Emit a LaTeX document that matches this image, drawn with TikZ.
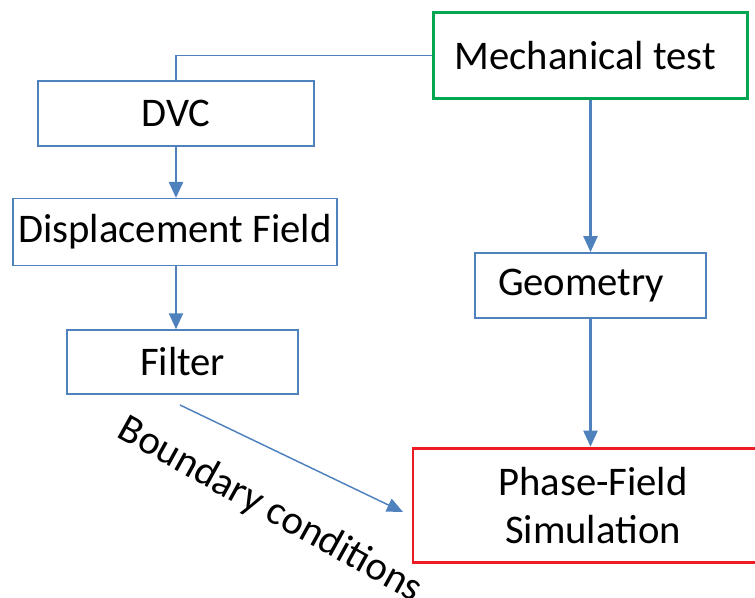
\documentclass[tikz,border=0pt]{standalone}
\usepackage{fontspec}
\setmainfont{Carlito}
\usetikzlibrary{arrows.meta}
\definecolor{lineblue}{RGB}{79,129,189}
\definecolor{boxgreen}{RGB}{0,166,80}
\definecolor{boxred}{RGB}{237,28,36}
\tikzset{
	box/.style={draw=lineblue, line width=1.1pt, fill=white, align=center, inner sep=0pt,
		font=\fontsize{30.5}{36}\selectfont},
	flow/.style={draw=lineblue, line width=1.8pt, -{Triangle[length=12pt, width=10.5pt]}},
	link/.style={draw=lineblue, line width=1.1pt}
}

\begin{document}
\begin{tikzpicture}[x=0.75pt, y=-0.75pt]
	\useasboundingbox (0, 0) rectangle (755, 598);
	
	\node[box, draw=boxgreen, line width=2.2pt, minimum width=236pt, minimum height=64pt] (mech) at (590.5, 55.5) {\hspace{-8pt}Mechanical test};
	\node[box, minimum width=207pt, minimum height=49pt] (dvc) at (176, 113.5) {DVC};
	\node[box, minimum width=243pt, minimum height=50pt] (disp) at (175, 232) {Displacement Field};
	\node[box, minimum width=173pt, minimum height=48pt] (filter) at (182.5, 362) {Filter};
	\node[box, minimum width=173pt, minimum height=49pt] (geom) at (590.5, 285.5) {\hspace{-14pt}Geometry};
	\node[box, draw=boxred, line width=2.2pt, minimum width=258pt, minimum height=86pt] (phase) at (585, 505.5) {\hspace{12pt}Phase-Field\\\hspace{12pt}Simulation};
	
	\draw[link] (mech.west) -| (dvc.north);
	\draw[flow] (dvc.south) -- (dvc.south |- disp.north);
	\draw[flow] (disp.south -| dvc.south) -- (dvc.south |- filter.north);
	\draw[flow] (mech.south -| geom) -- (geom);
	\draw[flow] (geom.south) -- (geom.south |- phase.north);
	
	\coordinate (bc start) at (180, 405);
	\coordinate (bc end) at (403, 512);
	\draw[link, -{Triangle[length=12pt, width=10.5pt]}] (bc start) -- (bc end);
	\node[rotate=-29, font=\fontsize{30.5}{36}\selectfont] (bc) at (270, 510) {Boundary conditions};
\end{tikzpicture}
\end{document}
